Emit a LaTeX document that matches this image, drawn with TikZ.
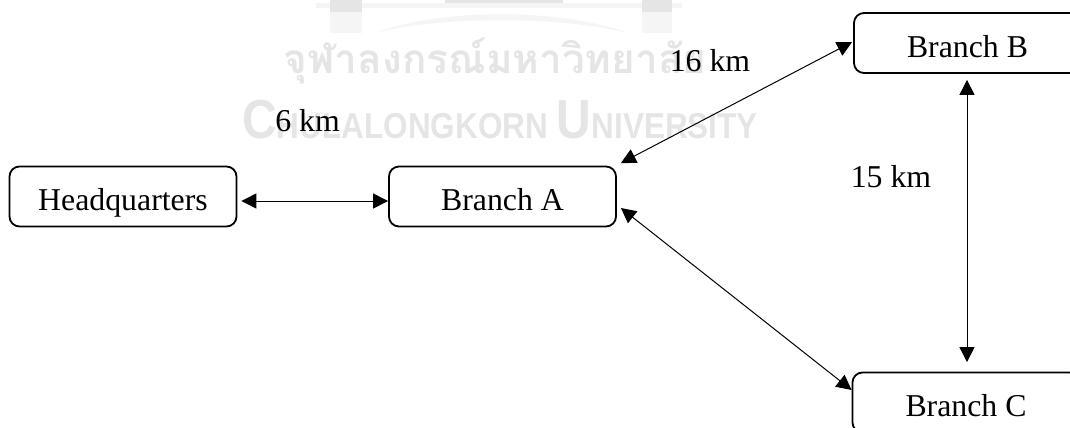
\documentclass[tikz,border=0pt]{standalone}
\usepackage{fontspec}
\setmainfont{Liberation Serif}
\newfontfamily\thaifont[Script=Thai]{Loma}
\newfontfamily\wmfont{Liberation Sans}
\usetikzlibrary{arrows.meta}
\definecolor{wm}{gray}{0.90}
\definecolor{wmsoft}{gray}{0.96}
\tikzset{
  box/.style={draw=black,line width=1.8pt,rounded corners=10pt,minimum width=227pt,minimum height=60pt,inner sep=0pt,text height=27pt,text depth=0pt,font=\fontsize{31.8}{33}\selectfont},
  lbl/.style={inner sep=0pt,font=\fontsize{31.8}{33}\selectfont},
  link/.style={line width=1pt,{Triangle[length=15pt,width=15pt]}-{Triangle[length=15pt,width=15pt]}},
  wmtext/.style={inner sep=0pt,text=wm}
}
\begin{document}
\begin{tikzpicture}[x=1pt,y=-1pt]
\useasboundingbox (0,0) rectangle (1070,428);
\clip (0,0) rectangle (1070,428);
% watermark
\fill[wmsoft] (375,33) .. controls (440,8) and (560,8) .. (628,33) .. controls (560,16) and (440,16) .. (375,33) -- cycle;
\fill[wmsoft] (316,3) rectangle (682,8);
\fill[wmsoft] (330,0) rectangle (362,33);
\fill[wmsoft] (642,0) rectangle (672,33);
\fill[wm] (330,0) rectangle (362,12);
\fill[wm] (642,0) rectangle (672,12);
\fill[wm] (445,0) rectangle (563,3);
\node[wmtext,anchor=center,font=\thaifont\bfseries\fontsize{40.5}{44}\selectfont] (wth) at (495,61) {จุฬาลงกรณ์มหาวิทยาลัย};
\node[wmtext,anchor=center,font=\wmfont\bfseries] (wen) at (500,120) {\scalebox{0.875}[1]{\fontsize{55}{56}\selectfont C\fontsize{36}{56}\selectfont HULALONGKORN \fontsize{55}{56}\selectfont U\fontsize{36}{56}\selectfont NIVERSITY}};
% boxes
\node[box] (hq) at (123,196.5) {Headquarters};
\node[box] (a) at (502.5,196.5) {Branch A};
\node[box,text height=29pt] (b) at (967.5,43) {Branch B};
\node[box] (c) at (966,402.5) {Branch C};
% labels
\node[lbl] (l6) at (307.5,121) {6 km};
\node[lbl] (l16) at (710,61) {16 km};
\node[lbl] (l15) at (891,177) {15 km};
% connectors
\draw[link] ([xshift=4pt,yshift=-4.5pt]hq.east) -- ([yshift=-4.5pt]a.west);
\draw[link] ([xshift=4pt,yshift=2.5pt]a.north east) -- ([xshift=-1pt,yshift=1pt]b.west);
\draw[link] ([xshift=4pt,yshift=-11.5pt]a.east) -- ([xshift=0pt,yshift=12.5pt]c.west);
\draw[link] ([xshift=-0.5pt,yshift=-6pt]b.south) -- ([xshift=1pt,yshift=9.5pt]c.north);
\end{tikzpicture}
\end{document}
